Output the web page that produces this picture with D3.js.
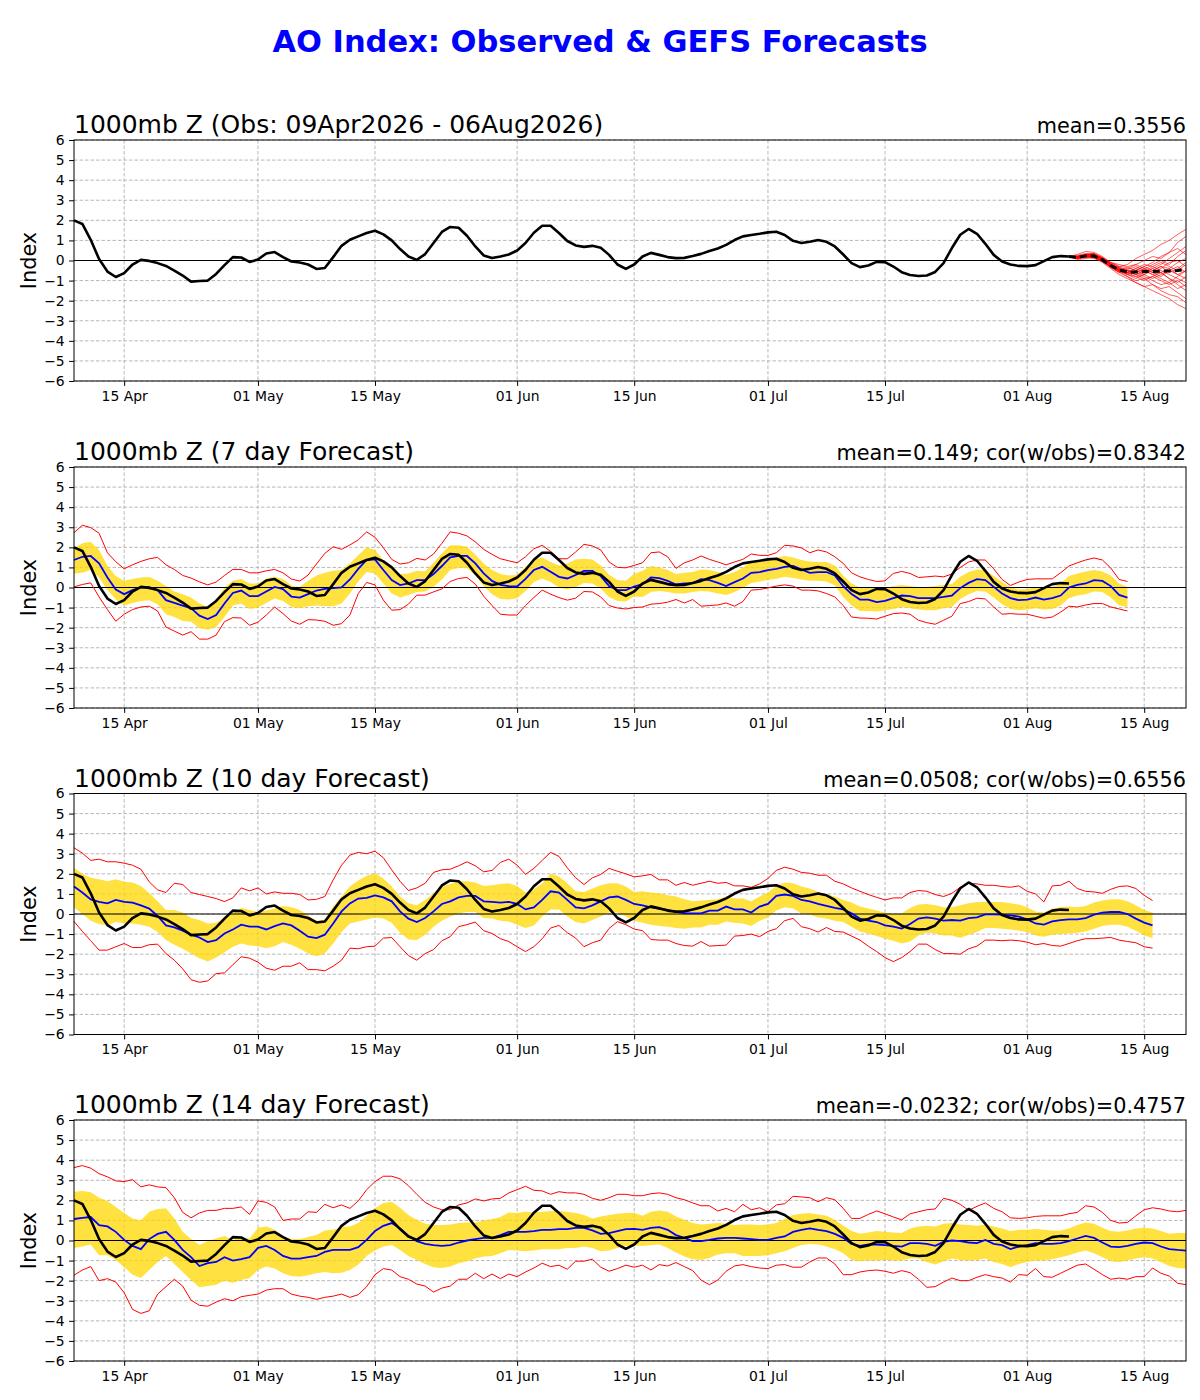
<!DOCTYPE html>
<html>
<head>
<meta charset="utf-8">
<script src="https://cdnjs.cloudflare.com/ajax/libs/d3/7.8.5/d3.min.js"></script>
<style>
body { margin: 0; background: #fff; }
svg { font-family: "DejaVu Sans", sans-serif; }
</style>
</head>
<body>
<svg id="chart" width="1200" height="1400"></svg>
<script>
/*global d3*/

var suptitle = "AO Index: Observed & GEFS Forecasts";
var startDay = "2026-04-09";
var endDay = "2026-08-20";
var tickDays = ["2026-04-15", "2026-05-01", "2026-05-15", "2026-06-01", "2026-06-15",
                "2026-07-01", "2026-07-15", "2026-08-01", "2026-08-15"];
var yTicks = [-6, -5, -4, -3, -2, -1, 0, 1, 2, 3, 4, 5, 6];

var panelTitles = ["1000mb Z (Obs: 09Apr2026 - 06Aug2026)", "1000mb Z (7 day Forecast)",
                   "1000mb Z (10 day Forecast)", "1000mb Z (14 day Forecast)"];
var panelStats = ["mean=0.3556", "mean=0.149; cor(w/obs)=0.8342",
                  "mean=0.0508; cor(w/obs)=0.6556", "mean=-0.0232; cor(w/obs)=0.4757"];

// observed AO, daily from 09 Apr
var obs = [2.0,1.82,1.03,0.07,-0.55,-0.82,-0.63,-0.2,0.03,-0.02,
    -0.13,-0.27,-0.5,-0.75,-1.05,-1.02,-1.0,-0.67,-0.23,0.17,
    0.15,-0.07,0.05,0.35,0.42,0.17,-0.05,-0.1,-0.2,-0.42,
    -0.37,0.17,0.73,1.03,1.2,1.37,1.48,1.3,1.0,0.57,
    0.2,0.03,0.32,0.87,1.42,1.67,1.63,1.23,0.7,0.25,
    0.12,0.2,0.3,0.5,0.87,1.38,1.73,1.73,1.37,0.97,
    0.75,0.68,0.73,0.63,0.28,-0.2,-0.42,-0.2,0.2,0.38,
    0.28,0.17,0.12,0.13,0.22,0.33,0.47,0.6,0.78,1.02,
    1.2,1.27,1.33,1.4,1.43,1.27,0.98,0.87,0.93,1.02,
    0.93,0.7,0.3,-0.13,-0.33,-0.25,-0.07,-0.08,-0.3,-0.58,
    -0.72,-0.77,-0.75,-0.57,-0.13,0.62,1.28,1.57,1.33,0.83,
    0.28,-0.05,-0.2,-0.27,-0.28,-0.23,-0.03,0.17,0.22,0.2];

// GEFS ensemble from 06 Aug (day 119)
var ensStart = 119;
var ensMean = [0.2,0.15,0.23,0.23,0.03,-0.25,-0.47,-0.57,-0.57,-0.55,-0.55,-0.53,-0.52,-0.5,-0.45];
var ensMembers = [
    [0.2,0.3,0.45,0.4,0.2,-0.1,-0.3,-0.2,0.1,0.3,0.5,0.8,1.0,1.3,1.55],
    [0.2,0.1,0.2,0.15,-0.1,-0.4,-0.7,-0.9,-1.1,-1.3,-1.5,-1.7,-1.9,-2.2,-2.4],
    [0.2,0.2,0.3,0.35,0.1,-0.2,-0.4,-0.6,-0.5,-0.3,-0.1,0.2,0.4,0.9,1.2],
    [0.2,0.05,0.1,0.2,0.0,-0.3,-0.6,-0.8,-1.0,-0.9,-1.2,-1.4,-1.3,-1.6,-1.9],
    [0.2,0.25,0.35,0.3,0.15,-0.15,-0.35,-0.45,-0.3,-0.5,-0.7,-0.6,-0.9,-1.1,-0.8],
    [0.2,0.15,0.2,0.25,0.05,-0.2,-0.5,-0.7,-0.9,-0.7,-0.4,-0.2,0.1,0.4,0.7],
    [0.2,0.1,0.15,0.1,-0.05,-0.35,-0.6,-0.5,-0.7,-0.9,-0.8,-1.0,-1.2,-1.0,-1.3],
    [0.2,0.2,0.3,0.3,0.1,-0.1,-0.2,-0.3,-0.2,0.0,0.2,0.1,0.4,0.6,0.3],
    [0.2,0.15,0.25,0.2,-0.05,-0.3,-0.55,-0.8,-1.1,-1.3,-1.2,-1.5,-1.7,-1.8,-2.1],
    [0.2,0.2,0.25,0.3,0.1,-0.2,-0.4,-0.5,-0.6,-0.4,-0.6,-0.8,-0.5,-0.3,-0.6],
    [0.2,0.1,0.2,0.15,0.0,-0.25,-0.45,-0.6,-0.4,-0.2,-0.3,-0.5,-0.7,-0.9,-1.1],
    [0.2,0.15,0.3,0.35,0.15,-0.1,-0.3,-0.35,-0.5,-0.7,-0.5,-0.3,-0.4,-0.1,0.1],
    [0.2,0.2,0.2,0.2,0.0,-0.3,-0.5,-0.7,-0.8,-1.0,-0.8,-0.6,-0.9,-1.2,-1.5],
    [0.2,0.15,0.15,0.25,0.05,-0.2,-0.45,-0.4,-0.2,-0.4,-0.6,-0.4,-0.1,0.0,-0.3],
    [0.2,0.1,0.25,0.2,0.0,-0.35,-0.55,-0.6,-0.7,-0.5,-0.7,-0.9,-1.1,-0.8,-0.5],
    [0.2,0.2,0.3,0.25,0.1,-0.15,-0.4,-0.55,-0.4,-0.6,-0.3,-0.1,-0.3,-0.5,-0.2],
    [0.2,0.15,0.2,0.2,0.0,-0.3,-0.5,-0.7,-0.6,-0.8,-1.0,-1.2,-1.1,-1.4,-1.2],
    [0.2,0.2,0.25,0.3,0.05,-0.2,-0.35,-0.5,-0.6,-0.45,-0.2,0.0,-0.2,0.2,0.5],
    [0.2,0.1,0.2,0.15,-0.05,-0.3,-0.5,-0.6,-0.8,-0.7,-0.9,-0.7,-0.5,-0.7,-0.9],
    [0.2,0.15,0.25,0.25,0.05,-0.2,-0.5,-0.65,-0.5,-0.3,-0.5,-0.3,-0.6,-0.4,-0.1],
    [0.2,0.2,0.3,0.3,0.1,-0.25,-0.45,-0.5,-0.7,-0.6,-0.4,-0.6,-0.4,-0.7,-0.5]
];

// 7 day forecasts, verifying from 09 Apr
var f7Mean = [1.37,1.53,1.57,1.2,0.5,-0.1,-0.33,-0.13,0.0,0.02,
    -0.13,-0.63,-0.77,-0.9,-1.03,-1.4,-1.57,-1.37,-0.8,-0.27,
    -0.15,-0.43,-0.43,-0.2,0.03,-0.08,-0.45,-0.5,-0.33,-0.15,
    -0.07,-0.03,0.0,0.4,0.93,1.37,1.4,0.87,0.37,0.12,
    0.2,0.37,0.37,0.67,1.07,1.5,1.57,1.57,1.2,0.7,
    0.33,0.13,0.07,0.05,0.43,0.87,1.03,0.78,0.53,0.45,
    0.62,0.83,0.83,0.57,0.07,-0.13,-0.13,0.05,0.17,0.5,
    0.47,0.33,0.15,0.2,0.22,0.42,0.37,0.23,0.07,0.27,
    0.45,0.73,0.77,0.87,0.93,1.03,1.07,0.9,0.73,0.77,
    0.77,0.6,0.07,-0.33,-0.6,-0.6,-0.73,-0.67,-0.53,-0.4,
    -0.43,-0.53,-0.53,-0.53,-0.47,-0.4,-0.03,0.23,0.42,0.37,
    0.03,-0.3,-0.53,-0.63,-0.6,-0.5,-0.6,-0.53,-0.4,0,
    0.13,0.2,0.37,0.33,0.07,-0.37,-0.5];
var f7BandHi = [1.97,2.2,2.28,1.87,1.07,0.57,0.33,0.42,0.5,0.52,
    0.33,0.07,-0.2,-0.33,-0.5,-0.8,-0.97,-0.63,0,0.33,
    0.42,0.2,0.2,0.45,0.53,0.42,0.1,0.03,0.33,0.6,
    0.73,0.83,0.87,1.2,1.6,2.0,1.87,1.37,0.93,0.67,
    0.7,0.83,0.8,1.23,1.7,2.1,2.1,2.03,1.63,1.2,
    0.87,0.67,0.6,0.62,1.03,1.4,1.5,1.27,1.1,1.2,
    1.4,1.43,1.4,1.1,0.63,0.37,0.33,0.68,0.83,1.07,
    1.0,0.87,0.67,0.73,0.77,0.9,0.87,0.77,0.63,0.77,
    1.0,1.28,1.28,1.4,1.5,1.57,1.5,1.37,1.3,1.27,
    1.27,1.1,0.6,0.2,0,0.03,-0.07,-0.03,0.07,0.13,
    0.07,0.03,0.03,0.07,0.13,0.17,0.53,0.77,0.9,0.87,
    0.57,0.27,0.03,-0.1,-0.07,0,-0.03,0.03,0.2,0.57,
    0.7,0.8,0.87,0.8,0.6,0.2,0.03];
var f7BandLo = [0.7,0.73,0.87,0.5,-0.13,-0.6,-0.9,-0.77,-0.67,-0.63,
    -0.83,-1.33,-1.47,-1.67,-1.7,-2.03,-2.1,-1.97,-1.47,-0.9,
    -0.8,-1.07,-1.0,-0.77,-0.55,-0.67,-0.97,-1.03,-0.93,-0.9,
    -0.93,-0.93,-0.8,-0.3,0.3,0.77,0.7,0.2,-0.3,-0.5,
    -0.37,-0.23,-0.2,0.03,0.4,0.87,0.97,0.97,0.6,0.07,
    -0.33,-0.57,-0.6,-0.53,-0.17,0.27,0.45,0.27,0,-0.1,
    0.03,0.23,0.2,-0.05,-0.47,-0.67,-0.7,-0.45,-0.47,-0.23,
    -0.17,-0.23,-0.3,-0.3,-0.23,-0.17,-0.2,-0.3,-0.37,-0.23,
    -0.03,0.23,0.3,0.37,0.43,0.53,0.47,0.4,0.33,0.33,
    0.3,0.1,-0.47,-0.9,-1.17,-1.17,-1.2,-1.13,-1.07,-0.97,
    -1.03,-1.1,-1.13,-1.13,-1.03,-0.97,-0.57,-0.33,-0.17,-0.2,
    -0.5,-0.83,-1.07,-1.13,-1.1,-1.03,-1.1,-1.07,-0.9,-0.53,
    -0.4,-0.33,-0.2,-0.23,-0.5,-0.9,-0.97];
var f7RedHi = [2.73,3.1,2.98,2.7,1.73,1.28,0.93,1.13,1.3,1.43,
    1.5,1.13,0.9,0.6,0.47,0.28,0.13,0.27,0.6,0.9,
    0.9,0.73,0.73,0.83,0.9,0.73,0.42,0.32,0.62,1.17,
    1.7,2.03,1.9,2.12,2.37,2.77,2.5,1.98,1.4,1.17,
    1.23,1.45,1.37,1.67,2.2,2.77,2.7,2.57,2.27,1.9,
    1.65,1.43,1.33,1.23,1.53,1.93,2.1,1.8,1.43,1.43,
    1.77,2.15,2.07,1.87,1.27,1.0,0.98,1.1,1.23,1.73,
    1.77,1.53,0.95,1.23,1.37,1.57,1.4,1.27,1.13,1.27,
    1.4,1.67,1.6,1.6,1.73,2.1,2.07,1.97,1.73,1.87,
    1.77,1.53,1.2,0.73,0.53,0.4,0.3,0.33,0.7,0.8,
    0.7,0.5,0.53,0.57,0.53,0.67,1.0,1.27,1.37,1.37,
    0.93,0.4,0.1,0.27,0.4,0.43,0.43,0.43,0.73,1.07,
    1.23,1.37,1.47,1.37,0.97,0.4,0.3];
var f7RedLo = [0.03,0.15,0.23,-0.47,-1.1,-1.68,-1.33,-1.1,-0.97,-0.93,
    -1.17,-1.97,-2.17,-2.37,-2.2,-2.57,-2.57,-2.37,-1.7,-1.5,
    -1.52,-1.88,-1.73,-1.37,-0.97,-1.3,-1.67,-1.83,-1.6,-1.62,
    -1.68,-1.88,-1.8,-1.37,-0.3,0.25,0.13,-0.63,-1.13,-1.1,
    -0.83,-0.38,-0.38,-0.22,-0.07,0.3,0.45,0.5,0.17,-0.43,
    -0.9,-1.33,-1.37,-1.37,-0.9,-0.5,-0.13,-0.33,-0.5,-0.63,
    -0.53,-0.2,-0.22,-0.47,-0.9,-1.02,-1.07,-1.0,-0.97,-0.83,
    -0.8,-0.73,-0.6,-0.77,-0.6,-0.93,-0.9,-0.87,-0.77,-0.93,
    -0.7,-0.13,-0.1,-0.02,0.07,0.13,0.07,-0.13,-0.13,-0.17,
    -0.3,-0.47,-0.9,-1.47,-1.52,-1.53,-1.57,-1.43,-1.3,-1.27,
    -1.33,-1.63,-1.75,-1.83,-1.63,-1.43,-0.8,-0.7,-0.53,-0.57,
    -0.97,-1.33,-1.3,-1.33,-1.33,-1.43,-1.53,-1.47,-1.23,-0.93,
    -0.97,-0.87,-0.8,-0.8,-0.97,-1.07,-1.17];

// 10 day forecasts
var f10Mean = [1.37,1.07,0.73,0.6,0.53,0.7,0.6,0.57,0.43,0.27,
    -0.1,-0.57,-0.67,-0.83,-1.03,-1.17,-1.4,-1.3,-0.97,-0.77,
    -0.53,-0.63,-0.63,-0.77,-0.6,-0.47,-0.57,-0.83,-1.13,-1.2,
    -1.03,-0.47,0.13,0.53,0.77,0.8,0.93,0.83,0.63,0.13,
    -0.23,-0.4,-0.2,0.13,0.5,0.63,0.83,0.9,0.9,0.63,
    0.6,0.57,0.6,0.5,0.23,0.33,0.7,1.13,1.07,0.7,
    0.33,0.28,0.43,0.63,0.83,0.87,0.7,0.5,0.43,0.33,
    0.27,0.2,0.1,0.03,0.03,0.03,0.17,0.17,0.37,0.23,
    0.23,0.07,0.37,0.5,0.9,0.97,0.9,0.7,0.63,0.5,
    0.4,0.3,0.23,0.03,-0.23,-0.33,-0.4,-0.57,-0.63,-0.73,
    -0.5,-0.23,-0.17,-0.23,-0.33,-0.3,-0.33,-0.2,-0.17,-0.02,
    -0.02,-0.03,-0.07,-0.13,-0.27,-0.47,-0.53,-0.37,-0.3,-0.27,
    -0.27,-0.2,-0.03,0.07,0.1,0.1,0,-0.23,-0.43,-0.57];
var f10BandHi = [2.3,2.0,1.8,1.73,1.63,1.73,1.6,1.57,1.4,1.03,
    0.63,0.2,0.2,0.07,-0.2,-0.3,-0.47,-0.43,-0.2,0.03,
    0.3,0.2,0.1,0.17,0.27,0.4,0.33,0.2,-0.07,-0.33,
    -0.27,0.37,0.87,1.37,1.67,1.9,2.03,1.77,1.37,0.87,
    0.53,0.43,0.7,1.03,1.37,1.5,1.63,1.63,1.57,1.4,
    1.43,1.5,1.53,1.4,1.07,1.23,1.53,2.0,1.87,1.53,
    1.13,1.1,1.27,1.43,1.53,1.53,1.37,1.1,1.13,1.07,
    1.03,0.93,0.87,0.73,0.63,0.67,0.7,0.73,0.87,0.77,
    0.77,0.63,0.87,1.07,1.4,1.57,1.53,1.37,1.27,1.1,
    1.0,0.87,0.7,0.57,0.37,0.27,0.17,0.07,0,0.03,
    0.3,0.47,0.5,0.43,0.33,0.33,0.43,0.53,0.6,0.6,
    0.6,0.6,0.53,0.47,0.33,0.13,0.07,0.27,0.33,0.37,
    0.33,0.4,0.57,0.67,0.73,0.73,0.63,0.43,0.2,0.07];
var f10BandLo = [0.33,0,-0.33,-0.5,-0.57,-0.4,-0.47,-0.47,-0.53,-0.63,
    -0.9,-1.3,-1.53,-1.73,-1.97,-2.2,-2.37,-2.17,-1.9,-1.63,
    -1.47,-1.57,-1.6,-1.7,-1.6,-1.4,-1.53,-1.73,-1.97,-2.1,
    -1.97,-1.47,-0.9,-0.47,-0.37,-0.27,-0.17,-0.23,-0.43,-0.93,
    -1.27,-1.3,-1.03,-0.63,-0.33,-0.13,0.03,0.1,0.1,-0.2,
    -0.23,-0.33,-0.37,-0.53,-0.7,-0.57,-0.13,0.23,0.23,-0.13,
    -0.4,-0.47,-0.3,-0.13,0.07,0.07,-0.13,-0.33,-0.43,-0.53,
    -0.6,-0.63,-0.7,-0.73,-0.67,-0.67,-0.53,-0.53,-0.37,-0.43,
    -0.47,-0.6,-0.33,-0.17,0.17,0.33,0.27,0.03,-0.03,-0.17,
    -0.23,-0.33,-0.4,-0.63,-0.87,-0.97,-1.1,-1.23,-1.33,-1.47,
    -1.37,-1.07,-0.93,-0.97,-1.07,-1.07,-1.2,-1.03,-0.9,-0.7,
    -0.7,-0.73,-0.77,-0.83,-0.9,-1.07,-1.13,-1.03,-1.0,-0.97,
    -0.93,-0.87,-0.73,-0.6,-0.53,-0.53,-0.63,-0.83,-1.07,-1.2];
var f10RedHi = [3.3,3.03,2.67,2.73,2.6,2.6,2.53,2.43,2.23,1.6,
    1.2,1.07,1.53,1.47,1.07,0.97,0.87,0.77,0.62,0.8,
    1.3,1.15,1.3,1.0,1.1,1.03,1.03,0.97,0.7,0.73,
    0.87,1.7,2.43,2.93,3.07,3.0,3.13,2.8,2.2,1.63,
    1.17,1.3,1.53,2.07,2.2,2.23,2.4,2.6,2.4,2.1,
    2.17,2.57,2.73,2.43,1.97,2.27,2.67,3.07,2.87,2.3,
    1.8,1.47,1.8,1.97,2.27,2.13,2.0,1.85,1.9,1.97,
    1.7,1.7,1.43,1.57,1.43,1.53,1.63,1.53,1.57,1.4,
    1.4,1.33,1.5,1.77,2.17,2.33,2.23,2.07,2.03,1.93,
    1.93,1.63,1.5,1.3,1.13,0.97,0.83,0.7,0.8,0.8,
    1.07,1.17,1.13,0.97,0.87,1.03,1.33,1.53,1.5,1.43,
    1.43,1.37,1.33,1.4,1.13,1.0,0.6,1.4,1.43,1.63,
    1.27,1.13,1.1,1.03,1.23,1.37,1.4,1.27,0.93,0.67];
var f10RedLo = [-0.37,-0.87,-1.33,-1.8,-1.8,-1.63,-1.47,-1.67,-1.67,-1.53,
    -1.5,-1.97,-2.3,-2.73,-3.27,-3.4,-3.33,-2.97,-2.93,-2.53,
    -2.13,-2.2,-2.4,-2.7,-2.8,-2.6,-2.6,-2.43,-2.77,-2.77,
    -2.83,-2.6,-2.3,-1.7,-1.73,-1.63,-1.6,-1.2,-1.17,-1.63,
    -2.07,-2.3,-1.97,-1.77,-1.33,-1.13,-0.63,-0.53,-0.4,-0.83,
    -0.97,-1.23,-1.37,-1.63,-1.87,-1.63,-1.23,-0.7,-0.57,-0.93,
    -1.2,-1.63,-1.43,-1.3,-0.72,-0.38,-0.53,-0.75,-0.83,-1.27,
    -1.3,-1.3,-1.47,-1.57,-1.6,-1.37,-1.6,-1.57,-1.55,-1.1,
    -1.07,-1.0,-1.13,-0.87,-0.73,-0.33,-0.22,-0.63,-0.73,-0.9,
    -0.67,-0.87,-0.9,-1.1,-1.3,-1.6,-1.87,-2.17,-2.37,-2.17,
    -1.87,-1.5,-1.5,-1.77,-1.97,-1.97,-2.0,-1.73,-1.6,-1.3,
    -1.3,-1.33,-1.3,-1.33,-1.4,-1.53,-1.47,-1.57,-1.6,-1.47,
    -1.33,-1.23,-1.23,-1.2,-1.17,-1.3,-1.37,-1.43,-1.63,-1.7];

// 14 day forecasts
var f14Mean = [1.07,1.13,1.17,0.77,0.7,0.43,0.03,-0.27,-0.43,0.07,
    0.33,0.43,0.03,-0.47,-0.83,-1.27,-1.13,-1.07,-0.83,-1.0,
    -0.93,-0.83,-0.37,-0.27,-0.47,-0.77,-0.9,-0.9,-0.83,-0.77,
    -0.57,-0.47,-0.47,-0.47,-0.33,0.03,0.47,0.73,0.87,0.6,
    0.23,-0.03,-0.17,-0.23,-0.27,-0.23,-0.1,0,0.07,0.13,
    0.13,0.27,0.43,0.43,0.43,0.47,0.53,0.53,0.57,0.57,
    0.63,0.63,0.5,0.33,0.37,0.47,0.57,0.58,0.53,0.63,
    0.67,0.53,0.27,0.13,-0.03,-0.03,0.03,0.1,0.13,0.13,
    0.1,0.07,0.03,0.03,0.13,0.2,0.43,0.53,0.6,0.53,
    0.47,0.33,0.13,-0.17,-0.27,-0.2,-0.2,-0.23,-0.27,-0.3,
    -0.13,-0.13,-0.17,-0.27,-0.07,0,-0.03,-0.1,-0.13,0.03,
    -0.17,-0.23,-0.43,-0.3,-0.23,-0.13,-0.17,-0.17,-0.13,-0.03,
    0.1,0.23,0.13,-0.1,-0.3,-0.33,-0.27,-0.17,-0.1,-0.13,
    -0.3,-0.43,-0.47,-0.5];
var f14BandHi = [2.43,2.47,2.4,2.13,1.97,1.67,1.37,1.1,1.0,1.43,
    1.57,1.6,1.1,0.43,0.07,-0.23,-0.03,0.1,0.23,0.03,
    0.13,0.1,0.63,0.7,0.53,0.2,0.07,0.07,0.17,0.27,
    0.5,0.53,0.67,0.7,0.87,1.23,1.6,1.87,1.93,1.63,
    1.27,1.03,0.83,0.77,0.77,0.8,0.87,0.9,0.9,1.0,
    1.07,1.17,1.4,1.37,1.43,1.4,1.43,1.47,1.47,1.43,
    1.37,1.27,1.1,1.2,1.27,1.33,1.37,1.38,1.23,1.43,
    1.5,1.43,1.2,1.03,0.87,0.8,0.83,0.87,0.83,0.77,
    0.8,0.8,0.77,0.8,0.87,1.07,1.27,1.33,1.37,1.3,
    1.23,1.03,0.73,0.47,0.33,0.4,0.47,0.43,0.4,0.37,
    0.6,0.7,0.73,0.7,0.83,0.87,0.8,0.77,0.73,0.8,
    0.7,0.6,0.47,0.53,0.53,0.57,0.53,0.5,0.5,0.6,
    0.77,0.9,0.83,0.63,0.47,0.43,0.5,0.6,0.63,0.6,
    0.47,0.33,0.37,0.37];
var f14BandLo = [-0.37,-0.3,-0.2,-0.73,-0.73,-0.97,-1.33,-1.7,-1.87,-1.47,
    -1.07,-0.77,-1.17,-1.57,-1.97,-2.33,-2.27,-2.2,-2.0,-2.1,
    -1.97,-1.87,-1.47,-1.3,-1.4,-1.63,-1.77,-1.8,-1.73,-1.63,
    -1.57,-1.63,-1.6,-1.47,-1.2,-0.77,-0.5,-0.3,-0.23,-0.47,
    -0.77,-0.97,-1.17,-1.33,-1.37,-1.3,-1.13,-1.03,-0.9,-0.8,
    -0.77,-0.63,-0.47,-0.5,-0.53,-0.5,-0.43,-0.43,-0.43,-0.37,
    -0.37,-0.3,-0.37,-0.53,-0.5,-0.37,-0.27,-0.25,-0.27,-0.23,
    -0.2,-0.37,-0.6,-0.8,-0.93,-0.97,-0.87,-0.7,-0.63,-0.63,
    -0.77,-0.77,-0.77,-0.73,-0.63,-0.53,-0.37,-0.23,-0.17,-0.2,
    -0.3,-0.43,-0.63,-0.97,-1.03,-1.0,-1.0,-0.97,-1.0,-1.0,
    -0.9,-0.9,-1.07,-1.2,-1.03,-0.9,-0.97,-1.0,-0.97,-0.9,
    -1.07,-1.17,-1.33,-1.17,-1.07,-1.0,-1.0,-0.93,-0.83,-0.73,
    -0.6,-0.5,-0.63,-0.83,-1.03,-1.07,-1.0,-0.9,-0.83,-0.9,
    -1.07,-1.27,-1.37,-1.4];
var f14RedHi = [3.63,3.73,3.6,3.33,3.17,2.97,2.93,3.03,2.67,2.77,
    2.67,2.63,2.13,1.4,1.13,1.37,1.5,1.5,1.6,1.6,
    1.67,1.3,1.97,1.9,1.67,1.0,1.07,1.07,1.43,1.4,
    1.8,1.63,1.77,1.6,1.97,2.53,2.93,3.2,3.2,3.07,
    2.73,2.3,1.9,1.67,1.53,1.53,1.77,1.87,2.07,1.97,
    2.07,2.1,2.37,2.53,2.7,2.5,2.47,2.3,2.43,2.37,
    2.37,2.3,2.1,2.0,2.13,2.3,2.3,2.23,2.23,2.33,
    2.37,2.3,2.13,2.03,1.87,1.73,1.73,1.47,1.6,1.43,
    1.8,1.53,1.63,1.43,1.77,1.83,2.2,2.17,2.13,1.93,
    2.13,2.03,1.6,1.1,1.1,1.3,1.47,1.33,1.17,1.03,
    1.33,1.43,1.53,1.57,2.1,2.0,1.8,1.5,1.7,1.87,
    1.6,1.43,1.13,1.1,1.13,1.2,1.23,1.23,1.23,1.33,
    1.4,1.73,1.67,1.4,1.0,0.87,0.9,1.23,1.53,1.63,
    1.57,1.47,1.43,1.5];
var f14RedLo = [-1.73,-1.47,-1.3,-2.0,-1.9,-2.07,-2.6,-3.43,-3.63,-3.5,
    -2.67,-2.3,-1.93,-2.27,-2.97,-3.23,-3.27,-3.07,-2.9,-3.0,
    -2.8,-2.73,-2.67,-2.47,-2.4,-2.4,-2.67,-2.77,-2.83,-2.93,
    -2.83,-2.77,-2.67,-2.83,-2.7,-2.3,-1.7,-1.4,-1.47,-1.8,
    -1.93,-2.17,-2.27,-2.57,-2.37,-2.27,-1.93,-1.93,-1.63,-1.9,
    -1.67,-1.9,-1.67,-1.8,-1.57,-1.37,-1.13,-1.3,-1.23,-1.43,
    -1.03,-1.03,-0.93,-1.33,-1.53,-1.4,-1.23,-1.33,-1.23,-1.47,
    -1.2,-1.27,-1.1,-1.3,-1.5,-1.97,-2.2,-1.97,-1.53,-1.27,
    -1.2,-1.3,-1.37,-1.4,-1.23,-1.2,-1.33,-1.33,-1.07,-0.87,
    -0.87,-1.17,-1.7,-1.7,-1.57,-1.5,-1.47,-1.53,-1.63,-1.5,
    -1.6,-1.93,-2.33,-2.3,-2.07,-1.87,-2.0,-2.0,-1.83,-1.7,
    -1.8,-1.87,-2.07,-1.7,-1.73,-1.4,-1.8,-1.83,-1.63,-1.43,
    -1.23,-1.17,-1.43,-1.7,-1.93,-1.87,-1.93,-1.8,-1.8,-1.37,
    -1.63,-1.77,-2.13,-2.2];

var forecasts = [null,
    { mean: f7Mean, bandHi: f7BandHi, bandLo: f7BandLo, redHi: f7RedHi, redLo: f7RedLo },
    { mean: f10Mean, bandHi: f10BandHi, bandLo: f10BandLo, redHi: f10RedHi, redLo: f10RedLo },
    { mean: f14Mean, bandHi: f14BandHi, bandLo: f14BandLo, redHi: f14RedHi, redLo: f14RedLo }];

var svg = d3.select("#chart");
var parseDay = d3.utcParse("%Y-%m-%d");
var t0 = parseDay(startDay);

var left = 74, right = 1186, plotH = 241;
var panelTops = [140, 467, 793.5, 1120];

var x = d3.scaleUtc()
    .domain([t0, parseDay(endDay)])
    .range([left, right]);

function dayX(i) { return x(d3.utcDay.offset(t0, i)); }

svg.append("text")
    .attr("x", 600).attr("y", 52)
    .attr("text-anchor", "middle")
    .attr("font-size", 30.5)
    .attr("font-weight", "bold")
    .attr("fill", "#0000ff")
    .text(suptitle);

panelTitles.forEach(function (title, k) {
    var top = panelTops[k];
    var y = d3.scaleLinear().domain([-6, 6]).range([top + plotH, top]);
    var g = svg.append("g");

    // grid
    g.selectAll(".hgrid").data(yTicks).enter().append("line")
        .attr("x1", left).attr("x2", right)
        .attr("y1", function (d) { return y(d); }).attr("y2", function (d) { return y(d); })
        .attr("stroke", "#b0b0b0").attr("stroke-width", 0.9).attr("stroke-dasharray", "3.5,2");
    g.selectAll(".vgrid").data(tickDays).enter().append("line")
        .attr("x1", function (d) { return x(parseDay(d)); }).attr("x2", function (d) { return x(parseDay(d)); })
        .attr("y1", top).attr("y2", top + plotH)
        .attr("stroke", "#b0b0b0").attr("stroke-width", 0.9).attr("stroke-dasharray", "3.5,2");

    var line = function (offset) {
        return d3.line()
            .x(function (v, i) { return dayX(i + offset); })
            .y(function (v) { return y(v); });
    };

    var fc = forecasts[k];
    if (fc) {
        var band = d3.area()
            .x(function (v, i) { return dayX(i); })
            .y0(function (v, i) { return y(fc.bandLo[i]); })
            .y1(function (v) { return y(v); });
        g.append("path").datum(fc.bandHi)
            .attr("d", band)
            .attr("fill", "#ffd700").attr("fill-opacity", 0.75);
    }

    // zero line
    g.append("line")
        .attr("x1", left).attr("x2", right)
        .attr("y1", y(0)).attr("y2", y(0))
        .attr("stroke", "#000").attr("stroke-width", 1);

    if (fc) {
        [fc.redHi, fc.redLo].forEach(function (s) {
            g.append("path").datum(s).attr("d", line(0))
                .attr("fill", "none").attr("stroke", "#ff0000").attr("stroke-width", 1);
        });
        g.append("path").datum(fc.mean).attr("d", line(0))
            .attr("fill", "none").attr("stroke", "#0000ff").attr("stroke-width", 1.8);
    }

    g.append("path").datum(obs).attr("d", line(0))
        .attr("fill", "none").attr("stroke", "#000").attr("stroke-width", 2.6)
        .attr("stroke-linejoin", "round");

    if (k === 0) {
        g.selectAll(".ens").data(ensMembers).enter().append("path")
            .attr("d", line(ensStart))
            .attr("fill", "none").attr("stroke", "#ff0000")
            .attr("stroke-width", 0.8).attr("stroke-opacity", 0.8);
        g.append("path").datum(ensMean).attr("d", line(ensStart))
            .attr("fill", "none").attr("stroke", "#000").attr("stroke-width", 3)
            .attr("stroke-dasharray", "7,4");
    }

    // frame
    g.append("rect")
        .attr("x", left).attr("y", top)
        .attr("width", right - left).attr("height", plotH)
        .attr("fill", "none").attr("stroke", "#000").attr("stroke-width", 1);

    // axes
    var xAxis = g.append("g")
        .attr("transform", "translate(0," + (top + plotH) + ")")
        .call(d3.axisBottom(x)
            .tickValues(tickDays.map(parseDay))
            .tickFormat(d3.utcFormat("%d %b"))
            .tickSize(4.9).tickPadding(5));
    var yAxis = g.append("g")
        .attr("transform", "translate(" + left + ",0)")
        .call(d3.axisLeft(y).tickValues(yTicks).tickSize(4.9).tickPadding(4.5));
    [xAxis, yAxis].forEach(function (a) {
        a.select(".domain").remove();
        a.attr("font-family", "DejaVu Sans").attr("font-size", 13.9);
        a.selectAll("text").attr("fill", "#000");
        a.selectAll("line").attr("stroke", "#000");
    });

    g.append("text")
        .attr("transform", "translate(36," + (top + plotH / 2) + ") rotate(-90)")
        .attr("text-anchor", "middle")
        .attr("font-size", 20.8)
        .text("Index");

    g.append("text")
        .attr("x", left).attr("y", top - 7)
        .attr("font-size", 25)
        .text(title);
    g.append("text")
        .attr("x", right).attr("y", top - 7)
        .attr("text-anchor", "end")
        .attr("font-size", 20.8)
        .text(panelStats[k]);
});
</script>
</body>
</html>
